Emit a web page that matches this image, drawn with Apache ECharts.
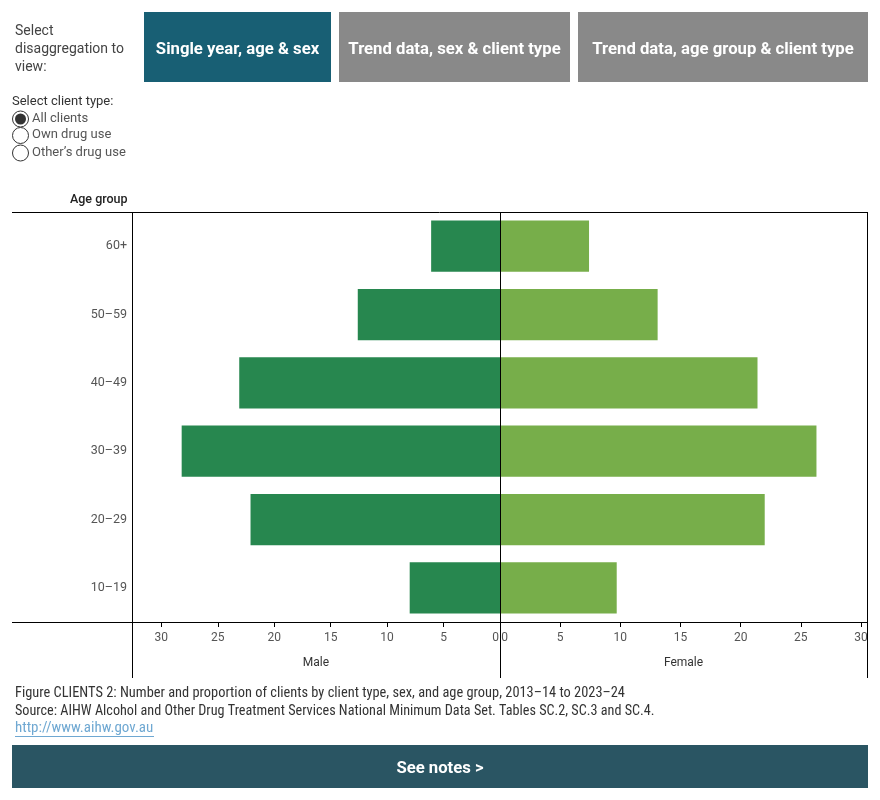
<!DOCTYPE html>
<html>
<head>
<meta charset="utf-8">
<script src="https://cdn.jsdelivr.net/npm/echarts@6/dist/echarts.min.js"></script>
<style>
html,body{margin:0;padding:0;background:#fff;}
#chart{width:880px;height:800px;}
</style>
</head>
<body>
<div id="chart"></div>
<script>
// ---- data ----
var ageGroups = ['10–19', '20–29', '30–39', '40–49', '50–59', '60+'];
var maleValues = [8.0, 22.1, 28.2, 23.1, 12.6, 6.1];
var femaleValues = [9.7, 22.0, 26.3, 21.4, 13.1, 7.4];
var tickValues = [0, 5, 10, 15, 20, 25, 30];
var sexLabels = ['Male', 'Female'];
var buttonLabels = ['Single year, age & sex', 'Trend data, sex & client type', 'Trend data, age group & client type'];
var clientTypes = ['All clients', 'Own drug use', 'Other\u2019s drug use'];

var chart = echarts.init(document.getElementById('chart'), null, {renderer: 'canvas'});

var FONT = 'Roboto, "Noto Sans", sans-serif';
var NARROW = '"Liberation Sans Narrow", "Roboto Condensed", Roboto, sans-serif';

function tickFmt(v) {
  return tickValues.indexOf(v) >= 0 ? (v === 0 ? '{z|0}' : String(v)) : '';
}

function axisCommon(maxV, zeroPad, name) {
  return {
    type: 'value', min: 0, max: maxV, interval: 5,
    axisLine: {show: true, lineStyle: {color: '#000', width: 1}},
    axisTick: {show: true, length: 5, lineStyle: {color: '#000'}},
    splitLine: {show: false},
    axisLabel: {
      color: '#555', fontSize: 12, fontFamily: FONT, margin: 10,
      formatter: tickFmt,
      rich: {z: {color: '#555', fontSize: 12, fontFamily: FONT, padding: zeroPad}}
    },
    name: name, nameLocation: 'middle', nameGap: 35,
    nameTextStyle: {color: '#333', fontSize: 12, fontFamily: FONT}
  };
}

var xMale = axisCommon(32.6, [0, 9, 0, 0], sexLabels[0]);
xMale.gridIndex = 0; xMale.inverse = true;
var xFemale = axisCommon(30.5, [0, 0, 0, 9], sexLabels[1]);
xFemale.gridIndex = 1;

var graphics = [];
function line(x1, y1, x2, y2) {
  graphics.push({type: 'line', z: 100, shape: {x1: x1, y1: y1, x2: x2, y2: y2},
    style: {stroke: '#000', lineWidth: 1}});
}
function text(x, y, t, opts) {
  var s = {text: t, x: x, y: y, fill: '#333', fontSize: 12, fontFamily: FONT,
    textAlign: 'left', textVerticalAlign: 'middle'};
  for (var k in opts) s[k] = opts[k];
  graphics.push({type: 'text', z: 100, style: s});
}

// Frame lines
line(12, 212.5, 867, 212.5);
line(12, 622.5, 132, 622.5);
line(132.5, 212, 132.5, 678);
line(500.5, 212, 500.5, 678);
line(867.5, 212, 867.5, 678);

// Header text
text(70, 200, 'Age group', {fill: '#222', fontSize: 12.5, fontWeight: 500});

// Disaggregation selector
text(15, 31.5, 'Select', {fill: '#444', fontSize: 14});
text(15, 49.5, 'disaggregation to', {fill: '#444', fontSize: 14});
text(15, 67.5, 'view:', {fill: '#444', fontSize: 14});

var btns = [[144, 187, '#185f74'], [339, 231, '#898989'], [578, 290, '#898989']];
btns.forEach(function (b, i) {
  graphics.push({type: 'rect', z: 90, shape: {x: b[0], y: 12, width: b[1], height: 70}, style: {fill: b[2]}});
  text(b[0] + b[1] / 2, 49.5, buttonLabels[i], {fill: '#fff', fontSize: 16.7, fontWeight: 'bold', textAlign: 'center'});
});

// Client type radios
text(12, 102, 'Select client type:', {fill: '#333', fontSize: 13});
var radioY = [119, 135.5, 153];
clientTypes.forEach(function (c, i) {
  graphics.push({type: 'circle', z: 90, shape: {cx: 20.5, cy: radioY[i], r: 8},
    style: {fill: '#fff', stroke: '#333', lineWidth: 1}});
  if (i === 0) {
    graphics.push({type: 'circle', z: 91, shape: {cx: 20.5, cy: radioY[i], r: 5.5}, style: {fill: '#333'}});
  }
  text(32, radioY[i] - 0.5, c, {fill: '#555', fontSize: 13});
});

// Footer
text(15, 693, 'Figure CLIENTS 2: Number and proportion of clients by client type, sex, and age group, 2013\u201314 to 2023\u201324', {fontFamily: NARROW, fontSize: 14.4, fill: '#333'});
text(15, 711.5, 'Source: AIHW Alcohol and Other Drug Treatment Services National Minimum Data Set. Tables SC.2, SC.3 and SC.4.', {fontFamily: NARROW, fontSize: 14.2, fill: '#333'});
text(15, 728.5, 'http://www.aihw.gov.au', {fontFamily: NARROW, fontSize: 15, fill: '#6fa8d2'});
graphics.push({type: 'line', z: 100, shape: {x1: 15, y1: 736.5, x2: 154, y2: 736.5}, style: {stroke: '#6fa8d2', lineWidth: 1}});
graphics.push({type: 'rect', z: 90, shape: {x: 12, y: 745, width: 856, height: 43}, style: {fill: '#2a5563'}});
text(440, 768.5, 'See notes >', {fill: '#fff', fontSize: 16.7, fontWeight: 'bold', textAlign: 'center'});

var option = {
  animation: false,
  backgroundColor: '#fff',
  grid: [
    {left: 132, width: 368, top: 212, height: 410, containLabel: false},
    {left: 500, width: 367, top: 212, height: 410, containLabel: false}
  ],
  xAxis: [xMale, xFemale],
  yAxis: [
    {gridIndex: 0, type: 'category', data: ageGroups, position: 'left',
      axisLine: {show: false}, axisTick: {show: false}, splitLine: {show: false},
      axisLabel: {color: '#555', fontSize: 12.5, fontFamily: FONT, margin: 5}},
    {gridIndex: 1, type: 'category', data: ageGroups, show: false}
  ],
  series: [
    {type: 'bar', name: sexLabels[0], xAxisIndex: 0, yAxisIndex: 0, data: maleValues,
      barWidth: '75%', itemStyle: {color: '#27874f'}},
    {type: 'bar', name: sexLabels[1], xAxisIndex: 1, yAxisIndex: 1, data: femaleValues,
      barWidth: '75%', itemStyle: {color: '#77ae4a'}}
  ],
  graphic: graphics
};
chart.setOption(option);
</script>
</body>
</html>
